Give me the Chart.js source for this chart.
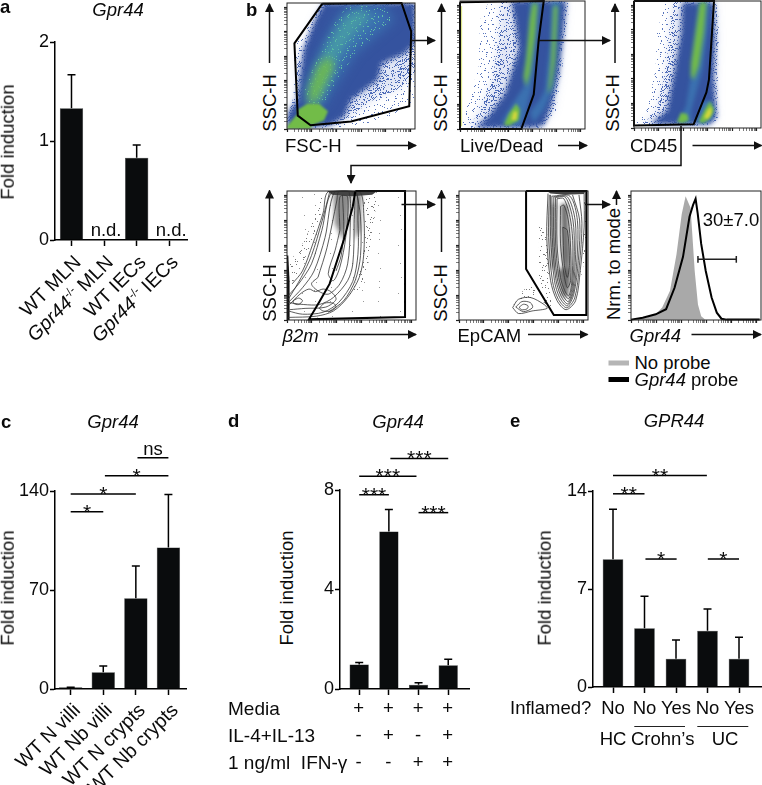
<!DOCTYPE html>
<html>
<head>
<meta charset="utf-8">
<style>
html, body { margin: 0; padding: 0; background: #fff; }
#page { position: relative; width: 762px; height: 785px; overflow: hidden; font-family: "Liberation Sans", Arial, sans-serif; color: #0a0a0a; }
#page canvas { position: absolute; }
#page svg { position: absolute; left: 0; top: 0; pointer-events: none; }
.t { position: absolute; white-space: nowrap; line-height: 1; }
.t sup { font-size: 60%; line-height: 0; }
</style>
<script src="https://cdn.jsdelivr.net/npm/chart.js@4"></script>
</head>
<body>
<div id="page"></div>
<script>
// Panel a
const aCategories = ['WT MLN', '<i>Gpr44</i><sup>-/-</sup> MLN', 'WT IECs', '<i>Gpr44</i><sup>-/-</sup> IECs'];
const aValues = [1.33, 0, 0.83, 0];
const aErrorTops = [1.67, null, 0.96, null];
const aNotDetected = [1, 3];

// Panel c
const cCategories = ['WT N villi', 'WT Nb villi', 'WT N crypts', 'WT Nb crypts'];
const cValues = [1.2, 11.8, 64.2, 100];
const cErrorTops = [1.3, 16.2, 87, 137.6];
const cSigFrom = [0, 0, 1.05, 2.05];
const cSigTo = [1, 2, 3, 3];
const cSigLevel = [125.4, 137.9, 150.8, 163.5];
const cSigText = ['*', '*', '*', 'ns'];

// Panel d
const dValues = [0.98, 6.33, 0.17, 0.95];
const dErrorTops = [1.07, 7.22, 0.25, 1.2];
const dSigFrom = [2, 0, 0, 1.05];
const dSigTo = [3, 1, 1.93, 3];
const dSigLevel = [7.09, 7.81, 8.55, 9.27];
const dSigText = ['***', '***', '***', '***'];
const dRowNames = ['Media', 'IL-4+IL-13', '1 ng/ml&nbsp; IFN-γ'];
const dRowMedia = ['+', '+', '+', '+'];
const dRowIl = ['-', '+', '-', '+'];
const dRowIfn = ['-', '-', '+', '+'];

// Panel e
const eCategories = ['No', 'No', 'Yes', 'No', 'Yes'];
const eValues = [9.12, 4.19, 2.02, 4.02, 2.02];
const eErrorTops = [12.7, 6.48, 3.36, 5.57, 3.55];
const eSigFrom = [1.03, 3.01, 0, 0];
const eSigTo = [2.02, 4, 1, 2.98];
const eSigLevel = [9.14, 9.14, 13.8, 15.1];
const eSigText = ['*', '*', '**', '**'];

// Flow plots, all in axis units 0-100
const flowTicks = [0, 19.3, 38.6, 57.9, 77.2, 96.5];
const flowMinorStep = [5.8, 9.3, 11.6, 13.5, 15, 16.4, 17.4, 18.3];

const p1Fringe = [[0,8],[5,25],[6,68],[22,90],[26,100],[100,100],[100,23],[82,11],[60,3.5],[42,0],[0,0]];
const p1Near = [[0,4],[3,19],[7,30],[8,56],[17,78],[27,100],[100,100],[100,45],[88,32],[70,25],[55,14],[40,3]];
const p1Blue = [[0,1],[1,13],[8,23],[10.5,44],[13,63],[22,87],[29,100],[100,100],[100,68],[92,60],[74,52],[71,39],[50,23],[45,10],[34,3],[18,1]];
const p1Mid = [[14,31],[21,50],[29,68],[39,87],[47,97],[74,98],[84,87],[71,76],[53,60],[40,39],[29,20],[18,13]];
const p1Teal = [[17,31],[22,47],[32,68],[45,89],[58,96],[66,89],[53,76],[40,58],[32,36],[26,23],[18,18]];
const p1Green = [[17,31],[24,50],[32,58],[37,50],[29,34],[24,23],[17,18]];
const p1Blob = [[8,15],[16,20],[25,20],[32,14],[29,7],[20,3],[10,6]];
const p1Corner = [[0,0],[0,2],[8,12],[20,3],[18,0]];
const p1Gate = [[27.6,99.5],[89.5,100],[97,77.5],[95.5,18],[50,6],[18.4,3],[8.4,10.6],[5.8,68],[27.6,99.5]];

const p2Fringe = [[0,1],[4,12],[15,49],[16,85],[23,99],[88,100],[85,75],[81,41],[76,10],[63,1]];
const p2Near = [[6,1],[14,11],[26,38],[31,72],[33,100],[86,100],[84,76],[80,42],[75,14],[65,1]];
const p2Blue = [[12,1],[23,10],[36,28],[47,62],[44,85],[41,100],[85,100],[83,78],[79,44],[73,18],[67,3],[57,1]];
const p2BandA = [[33,5],[41,18],[51,33],[55,70],[56,100],[64,100],[61,67],[57,31],[51,7],[47,2]];
const p2BandB = [[68,31],[72,67],[73,100],[80,100],[78,67],[75,33],[67,15],[59,5],[56,13],[64,23]];
const p2GreenA = [[53,54],[56,86],[58,98],[62,98],[60,73],[56,44],[53,33],[51,41]];
const p2GreenB = [[71,33],[73,54],[75,96],[78,96],[76,54],[73,33],[70,27]];
const p2Blob = [[35,3],[39,12],[45,20],[48,15],[47,7],[40,3]];
const p2Core = [[41,7],[43,14],[46,13],[45,7]];
const p2Edge = [[1.3,2],[1.3,96]];
const p2Gate = [[0,99],[67,100],[63,70],[59,27],[49,0],[0,0],[0,99]];

const p3Fringe = [[0,3],[10,14],[17,46],[18,74],[24,99],[66,99],[67,75],[66,35],[66,17],[67,5],[53,2]];
const p3Near = [[6,2],[18,14],[25,46],[28,74],[31,99],[65,99],[66,72],[65,36],[65,19],[66,7],[57,2]];
const p3Blue = [[13,3],[26,14],[32,46],[37,75],[38,99],[63,99],[64,70],[63,38],[64,22],[65,9],[60,3]];
const p3Teal = [[34,4],[41,17],[46,49],[50,86],[51,99],[59,99],[58,78],[54,46],[45,14],[45,4]];
const p3Green = [[45,51],[50,86],[52,99],[57,99],[55,75],[51,49],[47,38],[45,41]];
const p3BlobOuter = [[49,4],[53,20],[60,22],[64,16],[62,7],[54,3]];
const p3BlobGreen = [[51,5],[57,17],[60,21],[63,14],[60,8],[55,4]];
const p3BlobCore = [[55,8],[58,14],[61,17],[61,11],[58,7]];
const p3BlobLeft = [[34,5],[37,12],[42,11],[43,6],[38,4]];
const p3Gate = [[0,100],[63,100],[59,38],[57,28],[47,3],[0,2],[0,100]];

const p4Sparse = [[2,2],[2,100],[92,100],[92,2]];
const p4DotsLeft = [[28,99],[31,99],[20,60],[5,30],[2,28],[2,45],[14,62]];
const p4DotsRight = [[58,99],[70,99],[66,60],[62,38],[55,22],[50,20],[59,45],[60,80]];
const p4ShadeA = [[36,99],[37,75],[43,62],[47,75],[50,99]];
const p4ShadeB = [[52,99],[58,99],[57,70],[53,62]];
const p4EdgeDark = [[0,0],[2,0],[2,30],[1,50],[0,50]];
const p4TopDark = [[31,100],[70,100],[66,97],[50,96],[35,97]];
const p4ContourA = [[4,28],[12,38],[20,59],[28,83],[32,99.5],[56,99.5],[59.5,82.5],[59.5,51],[56,33],[47,17.5],[36,7],[23,3],[1,2]];
const p4ContourB = [[1,19],[9,28],[19,43.5],[27,69.5],[35,99.5],[53,99.5],[55,77],[55,51],[51,30],[40,13.5],[28,6],[12,4.5],[1,7]];
const p4ContourC = [[1,13.5],[12,25],[21,38],[29.5,64],[37,99.5],[51,99.5],[52,75],[51,43.5],[47,30.5],[36,17.5],[25,12],[13,12],[1,13.5]];
const p4ContourD = [[24,33],[31,56],[38.7,93],[40,99.5],[48,99.5],[49,72],[47,43.5],[41,28],[32,20],[24,22.6],[19,28],[24,33]];
const p4ContourE = [[41,69.5],[41,95.5],[47,95.5],[45.5,64],[41,41],[36,30.5],[32,36],[37.3,54],[41,69.5]];
const p4ContourF = [[33,99],[27,76],[19,50],[11,33],[1,16]];
const p4ContourG = [[54,99],[57,80],[57,50],[53,31],[44,15],[32,6]];
const p4ContourH = [[43,97],[44,70],[42,50],[38,38]];
const p4ContourI = [[2,12],[10,20],[17,24],[22,22],[28,24],[34,22],[38,16],[30,10],[14,9],[2,8]];
const p4PeakA = [[5,15],[9,17],[12,15],[9,12],[5,13],[5,15]];
const p4PeakB = [[25,9],[29,13],[36,13],[38,10],[34,7],[28,7],[25,9]];
const p4Gate = [[53,100],[51,88],[44,62],[33,28],[25,14],[17,0.5],[91.5,2.3],[91.5,100],[53,100]];

const p5DotsLow = [[40,8],[47,20],[57,30],[62,22],[58,17],[46,16]];
const p5DotsMid = [[62,75],[68,75],[70,30],[74,10],[66,12],[62,30]];
const p5DotsRight = [[97,98],[99,98],[98,50],[94,30],[94,40],[97,72]];
const p5ShadeA = [[71,90],[75,90],[75,40],[71,40]];
const p5ShadeB = [[76,40],[86,40],[85,18],[80,18]];
const p5ShadeCore = [[79,90],[84,90],[86,50],[85,25],[83,25],[80,50]];
const p5TopDark = [[68,100],[98,100],[97,97.6],[82.6,97],[71,98]];
const p5ContourA = [[69,98],[68,64.5],[71,30.5],[76,15],[83,8],[90.4,15],[94,38.5],[97,72],[97,98]];
const p5ContourA2 = [[70,97],[69.5,64],[72.5,30],[77,16],[83.5,9.5],[89.7,17],[93.3,42],[95.3,75],[93,97]];
const p5ContourB = [[71,97],[71,64.5],[74,30.5],[78,17.4],[84,11],[89,20],[92.5,46],[93.5,77.5],[88,97]];
const p5ContourB2 = [[72,96],[72.3,64],[75,32],[79,18.7],[84.3,12.5],[88.7,22],[91.5,48],[91.8,77],[86,96],[72,96]];
const p5ContourC = [[73.5,95.5],[73.5,64.5],[76,33],[80,20],[84.7,14.3],[88.3,24],[90.4,51],[90,77.5],[84,95.5],[73.5,95.5]];
const p5ContourC2 = [[74.8,95],[74.8,62],[77.3,33],[81,21.3],[85,16.5],[87.8,26],[89.4,53],[88.3,77.5],[82.6,95],[74.8,95]];
const p5ContourD = [[76,94],[76,59],[78.7,33],[82,22.7],[85,18.7],[87.3,28],[88.3,56.5],[86.5,77.5],[81.3,94],[76,94]];
const p5ContourE = [[78.7,88],[78.7,59],[81.3,35.7],[84,25],[86.5,30.5],[86.5,56.5],[84.7,77.5],[81.3,89],[78.7,88]];
const p5ContourF = [[80.5,72],[81.6,43.5],[84,33],[85.6,43.5],[84,69.5],[80.5,72]];
const p5LowA = [[41.6,9.6],[46,16],[55.5,17.4],[66,12],[68.3,9],[56.6,7],[46.2,5],[41.6,9.6]];
const p5LowB = [[44,10],[48.8,14.3],[55.3,13.5],[57,9.6],[50,6.5],[44,10]];
const p5LowC = [[46.7,10],[50,12.2],[53.5,11],[52.7,8.6],[48.3,8],[46.7,10]];
const p5Gate = [[52,100],[52,39.6],[73.5,3.9],[98.7,3.9],[98.7,100],[52,100]];

const histNoProbeX = [0, 4, 12, 19, 24, 30, 35, 39, 42, 45.8, 47, 49, 51.5, 54, 57];
const histNoProbeY = [0, 0.5, 2, 4.4, 9.6, 22.6, 51, 82, 96, 87, 69, 38, 12, 3, 0.3];
const histProbeX = [0, 9, 19, 27, 33.5, 40, 45, 47.7, 49.7, 51.3, 54, 57.5, 62, 66, 69.6, 73.5, 99];
const histProbeY = [0.3, 1.8, 4.4, 8.4, 25, 49, 80, 89, 94, 82.6, 59, 38, 17.4, 5.7, 1, 0.3, 0.3];
const histBracket = [[51.5,47],[81,47]];
const histBracketCapL = [[51.5,44.4],[51.5,49.6]];
const histBracketCapR = [[81,44.4],[81,49.6]];

// fixed dot tile for the sparse event clouds
const tileDots = [[2,3],[9,1],[17,5],[25,2],[33,6],[41,3],[5,10],[13,12],[21,9],[29,13],[37,11],[45,9],
    [1,17],[10,19],[18,16],[26,20],[34,17],[43,18],[6,25],[14,23],[23,27],[31,24],[39,26],[46,23],
    [3,32],[11,30],[19,34],[28,31],[36,33],[44,30],[7,39],[15,37],[24,41],[32,38],[40,40],[47,37],
    [2,45],[12,44],[20,46],[27,43],[35,46],[42,44]];

const BAR_BLACK = '#0a0c0d';
const page = document.getElementById('page');
Chart.defaults.font.family = '"Liberation Sans", Arial, sans-serif';
Chart.defaults.color = '#0a0a0a';

function pts(list) {
    return list.map(p => ({x: p[0], y: p[1]}));
}

function stipple(color, every, extra, tile) {
    const size = tile || 48;
    const c = document.createElement('canvas');
    c.width = size; c.height = size;
    const g = c.getContext('2d');
    g.fillStyle = color;
    tileDots.forEach((d, i) => {
        if (i % every !== 0) return;
        g.fillRect(d[0] % size, d[1] % size, 1, 1);
        if (extra) {
            g.fillRect(d[1] % size, (d[0] + 7) % size, 1, 1);
            g.fillRect((47 - d[0]) % size, (d[1] + 19) % size, 1, 1);
            g.fillRect((d[1] + 29) % size, (47 - d[0]) % size, 1, 1);
        }
    });
    return g.createPattern(c, 'repeat');
}

function text(html, x, y, o) {
    o = o || {};
    const d = document.createElement('div');
    d.className = 't';
    d.innerHTML = html;
    d.style.fontSize = (o.size || 18.5) + 'px';
    if (o.bold) d.style.fontWeight = 'bold';
    if (o.italic) d.style.fontStyle = 'italic';
    d.style.top = y + 'px';
    if (o.diagonal) {
        d.style.right = (762 - x) + 'px';
        d.style.transformOrigin = '100% 0';
        d.style.transform = 'rotate(-45deg)';
    } else {
        d.style.left = x + 'px';
        if (o.rotate) d.style.transform = 'translate(-50%,-50%) rotate(-90deg)';
        else if (o.center) d.style.transform = 'translate(-50%,-50%)';
        else d.style.transform = 'translateY(-50%)';
    }
    page.appendChild(d);
}

// page x of a category, from the chart's own x scale
function tickX(chart, i) {
    return parseFloat(chart.canvas.style.left) + chart.scales.x.getPixelForValue(i);
}

// error bars and significance lines drawn through the chart's own scales
const barExtras = {
    id: 'barExtras',
    afterDatasetsDraw(chart) {
        const opts = chart.options.plugins.barExtras;
        const ctx = chart.ctx, xs = chart.scales.x, ys = chart.scales.y;
        ctx.save();
        ctx.strokeStyle = '#000';
        ctx.lineWidth = 1.5;
        opts.errorTops.forEach((top, i) => {
            if (top === null) return;
            const x = xs.getPixelForValue(i);
            ctx.beginPath();
            ctx.moveTo(x, ys.getPixelForValue(opts.values[i]));
            ctx.lineTo(x, ys.getPixelForValue(top));
            ctx.moveTo(x - 4, ys.getPixelForValue(top));
            ctx.lineTo(x + 4, ys.getPixelForValue(top));
            ctx.stroke();
        });
        ctx.fillStyle = '#0a0a0a';
        ctx.textAlign = 'center';
        (opts.sigLevel || []).forEach((level, i) => {
            const a = xs.getPixelForValue(opts.sigFrom[i]), b = xs.getPixelForValue(opts.sigTo[i]);
            const y = ys.getPixelForValue(level);
            const isNs = opts.sigText[i] === 'ns';
            ctx.beginPath();
            ctx.moveTo(a, y);
            ctx.lineTo(b, y);
            ctx.stroke();
            ctx.font = (isNs ? '18.5' : '21') + 'px "Liberation Sans", Arial, sans-serif';
            ctx.fillText(opts.sigText[i], (a + b) / 2, y + (isNs ? -3 : 7));
        });
        ctx.restore();
    }
};

function barPanel(o) {
    const margin = 70;
    const c = document.createElement('canvas');
    c.width = o.right - o.left + 42;
    c.height = o.bottom - o.top + margin + 12;
    c.style.left = (o.left - 40) + 'px';
    c.style.top = (o.top - margin) + 'px';
    page.appendChild(c);
    return new Chart(c, {
        type: 'bar',
        data: {
            datasets: [{
                data: o.values.map((v, i) => ({x: i, y: v})),
                backgroundColor: BAR_BLACK,
                borderColor: '#2a2c2d',
                borderWidth: 0.5,
                barPercentage: o.barPct,
                categoryPercentage: 1
            }]
        },
        options: {
            responsive: false,
            animation: false,
            layout: {padding: {top: margin, right: 2, left: 0, bottom: 0}},
            plugins: {
                legend: {display: false},
                tooltip: {enabled: false},
                barExtras: {values: o.values, errorTops: o.errorTops, sigFrom: o.sigFrom, sigTo: o.sigTo, sigLevel: o.sigLevel, sigText: o.sigText}
            },
            scales: {
                x: {
                    type: 'linear',
                    offset: false,
                    min: o.xMin,
                    max: o.xMax,
                    afterBuildTicks: s => { s.ticks = o.values.map((v, i) => ({value: i})); },
                    afterFit: s => { s.height = 12; },
                    ticks: {display: false, autoSkip: false},
                    grid: {drawOnChartArea: false, offset: false, tickLength: 6, tickColor: '#000', tickWidth: 1.5},
                    border: {color: '#000', width: 1.5}
                },
                y: {
                    min: 0,
                    max: o.yMax,
                    afterFit: s => { s.width = 40; },
                    ticks: {stepSize: o.yStep, padding: 1, font: {size: 18}, color: '#0a0a0a'},
                    grid: {drawOnChartArea: false, tickLength: 5, tickColor: '#000', tickWidth: 1.5},
                    border: {color: '#000', width: 1.5}
                }
            }
        },
        plugins: [barExtras]
    });
}

// filled density areas and the plot frame for the flow panels
const flowDraw = {
    id: 'flowDraw',
    beforeDatasetDraw(chart, args) {
        const ds = chart.data.datasets[args.index];
        if (!ds.areaFill) return;
        const ctx = chart.ctx, a = chart.chartArea;
        ctx.save();
        ctx.beginPath();
        ctx.rect(a.left, a.top, a.right - a.left, a.bottom - a.top);
        ctx.clip();
        if (ds.blurPx) ctx.filter = 'blur(' + ds.blurPx + 'px)';
        ctx.fillStyle = ds.areaFill;
        ctx.beginPath();
        args.meta.data.forEach((p, i) => { if (i === 0) ctx.moveTo(p.x, p.y); else ctx.lineTo(p.x, p.y); });
        ctx.closePath();
        ctx.fill();
        ctx.restore();
    },
    afterDraw(chart) {
        const ctx = chart.ctx, a = chart.chartArea;
        ctx.save();
        ctx.strokeStyle = '#222';
        ctx.lineWidth = 1;
        ctx.strokeRect(a.left, a.top, a.right - a.left, a.bottom - a.top);
        ctx.restore();
    }
};

function flowAxis(size) {
    const all = [];
    flowTicks.forEach(t => {
        all.push(t);
        flowMinorStep.forEach(m => { if (t + m <= 100) all.push(t + m); });
    });
    return {
        type: 'linear',
        min: 0,
        max: 100,
        afterBuildTicks: s => { s.ticks = all.map(v => ({value: v})); },
        afterFit: s => { if (s.isHorizontal()) s.height = size; else s.width = size; },
        ticks: {display: false, autoSkip: false},
        grid: {
            drawOnChartArea: false,
            tickLength: 3,
            tickColor: '#222',
            tickWidth: ctx => flowTicks.includes(ctx.tick.value) ? 1.2 : 0.6
        },
        border: {display: false}
    };
}

// layers go bottom to top
function flowPanel(box, layers) {
    const c = document.createElement('canvas');
    c.width = box.right - box.left + 9;
    c.height = box.bottom - box.top + 9;
    c.style.left = (box.left - 6) + 'px';
    c.style.top = (box.top - 3) + 'px';
    page.appendChild(c);
    const n = layers.length;
    return new Chart(c, {
        type: 'scatter',
        data: {
            datasets: layers.map((l, i) => ({
                data: pts(l.pts),
                order: n - i,
                areaFill: l.fill,
                blurPx: l.blur,
                showLine: !l.fill,
                borderColor: l.color || '#000',
                borderWidth: l.width || 1,
                tension: l.smooth || 0,
                pointRadius: 0,
                clip: l.fill ? undefined : false
            }))
        },
        options: {
            responsive: false,
            animation: false,
            layout: {padding: {top: 3, right: 3, left: 0, bottom: 0}},
            plugins: {legend: {display: false}, tooltip: {enabled: false}},
            scales: {x: flowAxis(6), y: flowAxis(6)}
        },
        plugins: [flowDraw]
    });
}

// ---- a ----
const chartA = barPanel({left: 55, right: 187, top: 42, bottom: 240, xMin: -0.506, xMax: 3.544, barPct: 0.715,
    yMax: 2, yStep: 1, values: aValues, errorTops: aErrorTops});
text('<i>Gpr44</i>', 118, 10, {center: true});
text('a', 0, 7, {bold: true});
text('Fold induction', 8, 142, {rotate: true});
aNotDetected.forEach(i => text('n.d.', tickX(chartA, i) + 2, 230, {center: true}));
aCategories.forEach((l, i) => text(l, tickX(chartA, i) - 1, 252, {diagonal: true, size: 19.5}));

// ---- c ----
const chartC = barPanel({left: 55, right: 186, top: 491, bottom: 689.5, xMin: -0.482, xMax: 3.54, barPct: 0.715,
    yMax: 140, yStep: 70, values: cValues, errorTops: cErrorTops,
    sigFrom: cSigFrom, sigTo: cSigTo, sigLevel: cSigLevel, sigText: cSigText});
text('<i>Gpr44</i>', 113, 422, {center: true});
text('c', 1, 422, {bold: true});
text('Fold induction', 8, 588, {rotate: true});
cCategories.forEach((l, i) => text(l, tickX(chartC, i) - 1, 700, {diagonal: true, size: 19.5}));

// ---- d ----
const chartD = barPanel({left: 339.5, right: 468.5, top: 489.5, bottom: 689, xMin: -0.647, xMax: 3.7, barPct: 0.65,
    yMax: 8, yStep: 4, values: dValues, errorTops: dErrorTops,
    sigFrom: dSigFrom, sigTo: dSigTo, sigLevel: dSigLevel, sigText: dSigText});
text('<i>Gpr44</i>', 398, 422, {center: true});
text('d', 228, 421, {bold: true});
text('Fold induction', 287, 588, {rotate: true});
[dRowMedia, dRowIl, dRowIfn].forEach((row, r) => {
    const y = [707.5, 735, 761.5][r];
    text(dRowNames[r], 228, y, {size: 19});
    row.forEach((s, i) => text(s, tickX(chartD, i), y, {center: true}));
});

// ---- e ----
const chartE = barPanel({left: 593, right: 762, top: 491, bottom: 687, xMin: -0.635, xMax: 4.73, barPct: 0.655,
    yMax: 14, yStep: 7, values: eValues, errorTops: eErrorTops,
    sigFrom: eSigFrom, sigTo: eSigTo, sigLevel: eSigLevel, sigText: eSigText});
text('<i>GPR44</i>', 674, 421, {center: true});
text('e', 510, 421, {bold: true});
text('Fold induction', 545, 588, {rotate: true});
text('Inflamed?', 510, 708);
eCategories.forEach((l, i) => text(l, tickX(chartE, i), 708, {center: true}));
text('HC', 613, 739, {center: true});
text('Crohn’s', 662.7, 739, {center: true});
text('UC', 725, 739, {center: true});

// ---- b, flow plots ----
const BLUE_DOT = stipple('#5a76bd', 1, true);
const BLUE_DENSE = stipple('#4a68b5', 1, true, 29);
const TEAL_DOT = stipple('#62c0a8', 1, true);
const GRAY_DOT = stipple('#777', 1, true);
const GRAY_SPARSE = stipple('#999', 4, false);
const SOFT = 'rgba(70,100,190,0.16)';
const BLUE = '#35539f', MID = 'rgba(63,134,189,0.6)', TEAL = 'rgba(79,179,160,0.6)', GREEN = '#72bc48', YELLOW = '#d8d83c';

flowPanel({left: 287, right: 415, top: 3, bottom: 129}, [
    {pts: p1Fringe, fill: BLUE_DOT},
    {pts: p1Near, fill: SOFT, blur: 4},
    {pts: p1Near, fill: BLUE_DENSE},
    {pts: p1Blue, fill: BLUE, blur: 2.5},
    {pts: p1Mid, fill: MID, blur: 6},
    {pts: p1Mid, fill: TEAL_DOT},
    {pts: p1Teal, fill: TEAL, blur: 5},
    {pts: p1Green, fill: 'rgba(114,188,72,0.85)', blur: 4},
    {pts: p1Blob, fill: GREEN, blur: 0.8},
    {pts: p1Corner, fill: GREEN, blur: 0.8},
    {pts: p1Gate, color: '#000', width: 2}
]);
flowPanel({left: 460, right: 585, top: 1, bottom: 129}, [
    {pts: p2Fringe, fill: BLUE_DOT},
    {pts: p2Near, fill: SOFT, blur: 4},
    {pts: p2Near, fill: BLUE_DENSE},
    {pts: p2Blue, fill: BLUE, blur: 2.5},
    {pts: p2BandA, fill: MID, blur: 2},
    {pts: p2BandB, fill: MID, blur: 2},
    {pts: p2GreenA, fill: GREEN, blur: 2},
    {pts: p2GreenB, fill: GREEN, blur: 2},
    {pts: p2Blob, fill: GREEN, blur: 1.5},
    {pts: p2Core, fill: YELLOW, blur: 1.5},
    {pts: p2Edge, color: '#d8e27a', width: 1},
    {pts: p2Gate, color: '#000', width: 2}
]);
flowPanel({left: 634, right: 761, top: 1, bottom: 128}, [
    {pts: p3Fringe, fill: BLUE_DOT},
    {pts: p3Near, fill: SOFT, blur: 4},
    {pts: p3Near, fill: BLUE_DENSE},
    {pts: p3Blue, fill: BLUE, blur: 2.5},
    {pts: p3Teal, fill: MID, blur: 2},
    {pts: p3Green, fill: GREEN, blur: 2},
    {pts: p3BlobOuter, fill: MID, blur: 1.5},
    {pts: p3BlobGreen, fill: GREEN, blur: 1.5},
    {pts: p3BlobCore, fill: YELLOW, blur: 1.5},
    {pts: p3BlobLeft, fill: GREEN, blur: 1.5},
    {pts: p3Gate, color: '#000', width: 2}
]);
const CONTOUR = {color: '#333', width: 0.8, smooth: 0.3};
flowPanel({left: 287, right: 416, top: 190.5, bottom: 319.5}, [
    {pts: p4Sparse, fill: GRAY_SPARSE},
    {pts: p4DotsLeft, fill: GRAY_DOT},
    {pts: p4DotsRight, fill: GRAY_DOT},
    {pts: p4ShadeA, fill: '#8a8a8a', blur: 2},
    {pts: p4ShadeB, fill: '#8a8a8a', blur: 2},
    {pts: p4EdgeDark, fill: '#111'},
    {pts: p4TopDark, fill: '#444', blur: 0.6},
    {pts: p4ContourA, ...CONTOUR},
    {pts: p4ContourB, ...CONTOUR},
    {pts: p4ContourC, ...CONTOUR},
    {pts: p4ContourD, ...CONTOUR},
    {pts: p4ContourE, ...CONTOUR},
    {pts: p4ContourF, ...CONTOUR},
    {pts: p4ContourG, ...CONTOUR},
    {pts: p4ContourH, ...CONTOUR},
    {pts: p4ContourI, ...CONTOUR},
    {pts: p4PeakA, ...CONTOUR},
    {pts: p4PeakB, ...CONTOUR},
    {pts: p4Gate, color: '#000', width: 2}
]);
flowPanel({left: 459, right: 588, top: 190.5, bottom: 319.5}, [
    {pts: p5DotsLow, fill: GRAY_DOT},
    {pts: p5DotsMid, fill: GRAY_DOT},
    {pts: p5DotsRight, fill: GRAY_DOT},
    {pts: p5ShadeA, fill: '#999', blur: 2},
    {pts: p5ShadeB, fill: '#777', blur: 2},
    {pts: p5ShadeCore, fill: '#666', blur: 2},
    {pts: p5TopDark, fill: '#444', blur: 0.6},
    {pts: p5ContourA, ...CONTOUR},
    {pts: p5ContourA2, ...CONTOUR},
    {pts: p5ContourB, ...CONTOUR},
    {pts: p5ContourB2, ...CONTOUR},
    {pts: p5ContourC, ...CONTOUR},
    {pts: p5ContourC2, ...CONTOUR},
    {pts: p5ContourD, ...CONTOUR},
    {pts: p5ContourE, ...CONTOUR},
    {pts: p5ContourF, ...CONTOUR},
    {pts: p5LowA, ...CONTOUR},
    {pts: p5LowB, ...CONTOUR},
    {pts: p5LowC, ...CONTOUR},
    {pts: p5Gate, color: '#000', width: 2}
]);
flowPanel({left: 631, right: 761, top: 190.5, bottom: 319.5}, [
    {pts: histNoProbeX.map((x, i) => [x, histNoProbeY[i]]), fill: '#a9a9a9'},
    {pts: histProbeX.map((x, i) => [x, histProbeY[i]]), color: '#000', width: 2},
    {pts: histBracket, color: '#222', width: 1.5},
    {pts: histBracketCapL, color: '#222', width: 1.5},
    {pts: histBracketCapR, color: '#222', width: 1.5}
]);

text('b', 246, 10, {bold: true});
text('SSC-H', 270, 103, {rotate: true});
text('SSC-H', 441, 103, {rotate: true});
text('SSC-H', 613, 103, {rotate: true});
text('SSC-H', 270, 293, {rotate: true});
text('SSC-H', 441, 293, {rotate: true});
text('Nrm. to mode', 614, 264, {rotate: true});
text('FSC-H', 285, 146);
text('Live/Dead', 460, 146);
text('CD45', 630, 146);
text('<i>β2m</i>', 282.5, 336);
text('EpCAM', 457.5, 336);
text('<i>Gpr44</i>', 629.5, 336);
text('30±7.0', 731, 220, {center: true});
text('No probe', 634.5, 363);
text('<i>Gpr44</i> probe', 634.5, 380);

// arrows, connectors and small rules on top
const arrows = [
    [269.5,63,269.5,4],[356.5,145.5,416,145.5],[411,40.5,435,40.5],
    [441.5,63,441.5,4],[558,145.5,587,145.5],[539,40.5,610,40.5],
    [615,63,615,4],[692.5,145.5,761.5,145.5],
    [269.5,252,269.5,190.5],[328,334.5,416,334.5],[401.5,204.5,435,204.5],
    [441.5,252,441.5,190.5],[528,334.5,587.5,334.5],[585,204.5,610,204.5],
    [616.5,205,616.5,191],[691.5,334.5,761,334.5]
];
const rules = [[634.3,726.5,685,726.5],[697.3,726.5,748.3,726.5]];
let svg = '<svg width="762" height="785" xmlns="http://www.w3.org/2000/svg"><defs><marker id="h" markerWidth="9" markerHeight="9" refX="8" refY="4.5" orient="auto" markerUnits="userSpaceOnUse"><path d="M0,0 L9,4.5 L0,9z" fill="#111"/></marker></defs>';
arrows.forEach(a => {
    svg += '<line x1="' + a[0] + '" y1="' + a[1] + '" x2="' + a[2] + '" y2="' + a[3] + '" stroke="#111" stroke-width="1.5" marker-end="url(#h)"/>';
});
rules.forEach(a => {
    svg += '<line x1="' + a[0] + '" y1="' + a[1] + '" x2="' + a[2] + '" y2="' + a[3] + '" stroke="#222" stroke-width="1"/>';
});
svg += '<polyline points="681,126 681,165.5 351,165.5 351,183" fill="none" stroke="#111" stroke-width="1.5" marker-end="url(#h)"/>';
svg += '<rect x="608.5" y="360.5" width="20.5" height="5" fill="#b5b5b5"/><rect x="608.5" y="377" width="20.5" height="5" fill="#000"/>';
svg += '</svg>';
page.insertAdjacentHTML('beforeend', svg);
</script>
</body>
</html>
